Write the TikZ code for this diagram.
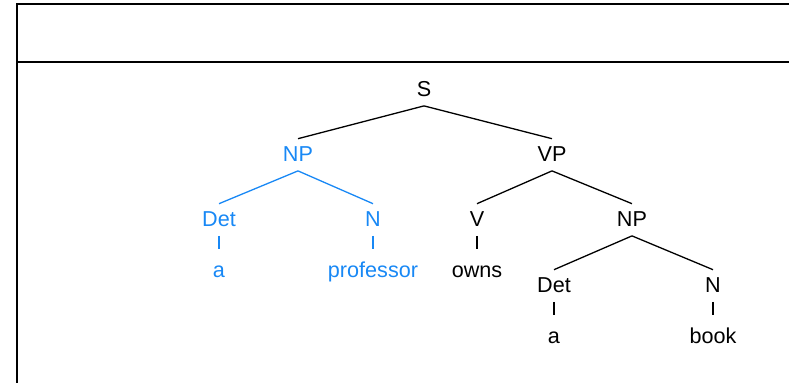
\documentclass[tikz,border=0pt]{standalone}
\usepackage{fontspec}
\setmainfont{Liberation Sans}
\definecolor{subjblue}{RGB}{24,136,245}
\tikzset{
  cat/.style={
    anchor=base,
    inner xsep=2pt,
    inner ysep=3.75pt,
    text height=7.7pt,
    text depth=0.5pt
  },
  word/.style={
    cat,
    text height=10.5pt
  },
  branch/.style={
    draw,
    line width=0.65pt
  },
  subject/.style={
    subjblue,
    text=subjblue
  },
  frame/.style={
    draw,
    line width=0.8pt
  }
}

\begin{document}
\begin{tikzpicture}[x=0.5pt,y=-0.5pt,font=\fontsize{10.8}{13}\selectfont]
  \useasboundingbox (0,0) rectangle (789,383);
  \path[frame] (17,383) -- (17,4) -- (789,4);
  \path[frame] (17,62) -- (789,62);

  \node[cat] (s) at (424,97) {S};
  \node[cat,subject] (np1) at (298,162) {NP};
  \node[cat] (vp) at (552,162) {VP};
  \node[cat,subject] (det1) at (219,227) {Det};
  \node[cat,subject] (n1) at (373,227) {N};
  \node[cat] (v) at (477,227) {V};
  \node[cat] (np2) at (632,227) {NP};
  \node[word,subject] (a1) at (219,278) {a};
  \node[word,subject] (prof) at (373,278) {professor};
  \node[word] (owns) at (477,278) {owns};
  \node[cat] (det2) at (554,293) {Det};
  \node[cat] (n2) at (713,293) {N};
  \node[word] (a2) at (554,344) {a};
  \node[word] (book) at (713,344) {book};

  \path[branch] (s.south) -- (np1.north);
  \path[branch] (s.south) -- (vp.north);
  \path[branch,subject] (np1.south) -- (det1.north);
  \path[branch,subject] (np1.south) -- (n1.north);
  \path[branch,subject] (det1.south) -- (a1.north);
  \path[branch,subject] (n1.south) -- (prof.north);
  \path[branch] (vp.south) -- (v.north);
  \path[branch] (vp.south) -- (np2.north);
  \path[branch] (v.south) -- (owns.north);
  \path[branch] (np2.south) -- (det2.north);
  \path[branch] (np2.south) -- (n2.north);
  \path[branch] (det2.south) -- (a2.north);
  \path[branch] (n2.south) -- (book.north);
\end{tikzpicture}
\end{document}
